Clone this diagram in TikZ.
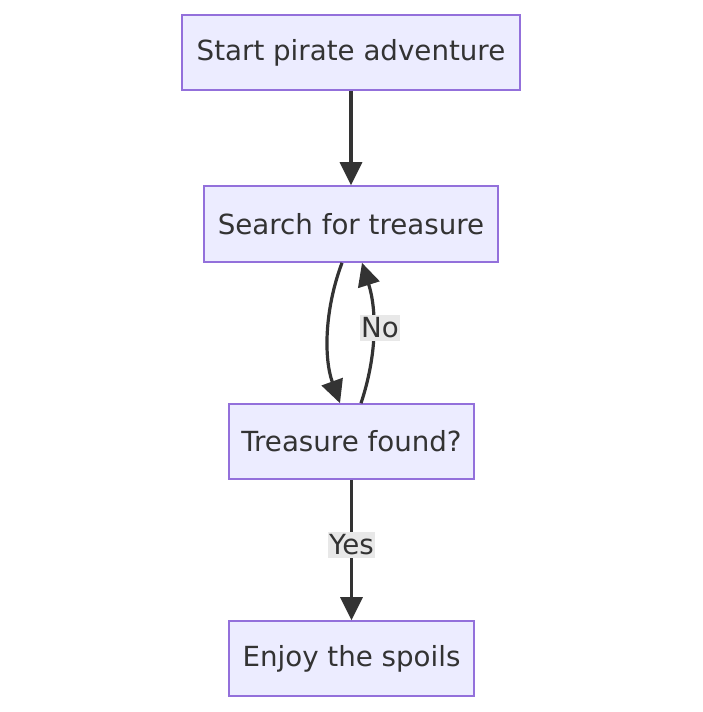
\documentclass[tikz,border=0pt]{standalone}
\usepackage{fontspec}
\setmainfont{DejaVu Sans}
\usetikzlibrary{arrows.meta}
\definecolor{boxfill}{HTML}{ECECFF}
\definecolor{boxline}{HTML}{9370DB}
\definecolor{ink}{HTML}{333333}
\definecolor{lblbg}{HTML}{E8E8E8}
\begin{document}
\begin{tikzpicture}[x=1pt,y=-1pt,
  stepbox/.style={draw=boxline,fill=boxfill,line width=1.6pt,text=ink,
    font=\fontsize{27.7}{32}\selectfont,inner sep=0pt,anchor=center},
  flow/.style={draw=ink,line width=3.2pt,
    -{Triangle[length=23pt,width=22pt]}},
  edgelabel/.style={fill=lblbg,text=ink,font=\fontsize{27.7}{32}\selectfont,
    inner xsep=1pt,inner ysep=3pt}]
\useasboundingbox (0,0) rectangle (703,712);
\fill[white] (0,0) rectangle (703,712);

\node[stepbox,minimum width=338pt,minimum height=75pt] (start) at (351,52.5) {Start pirate adventure};
\node[stepbox,minimum width=294pt,minimum height=76pt] (search) at (351,224) {Search for treasure};
\node[stepbox,minimum width=245pt,minimum height=75pt] (found) at (351.5,441.5) {Treasure found?};
\node[stepbox,minimum width=245pt,minimum height=75pt] (enjoy) at (351.5,658.5) {Enjoy the spoils};

\draw[flow] (start.south) -- (search.north);
\draw[flow] ([xshift=-9pt]search.south) .. controls +(-18,48) and +(-16,-44) .. ([xshift=-11.5pt]found.north);
\draw[flow] ([xshift=9.5pt]found.north) .. controls +(16,-48) and +(15,48) .. ([xshift=11pt]search.south);
\node[edgelabel] (no) at (380,328) {No};
\draw[flow] (found.south) -- (enjoy.north);
\node[edgelabel] (yes) at (351.5,545) {Yes};
\end{tikzpicture}
\end{document}
